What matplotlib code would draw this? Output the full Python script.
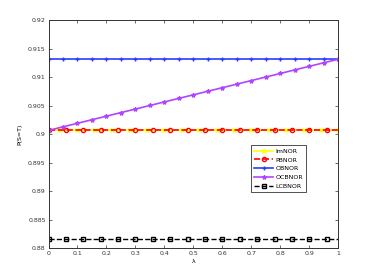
import numpy as np
import matplotlib
matplotlib.use("Agg")
import matplotlib.pyplot as plt

# === data ===
lam = [0.00, 0.05, 0.10, 0.15, 0.20, 0.25, 0.30, 0.35, 0.40, 0.45, 0.50,
       0.55, 0.60, 0.65, 0.70, 0.75, 0.80, 0.85, 0.90, 0.95, 1.00]
lam_b = [0.00, 0.06, 0.12, 0.18, 0.24, 0.30, 0.36, 0.42, 0.48, 0.54, 0.60,
         0.66, 0.72, 0.78, 0.84, 0.90, 0.96, 1.00]
lam_c = [0.00, 0.04, 0.10, 0.16, 0.22, 0.28, 0.34, 0.40, 0.46, 0.52, 0.58,
         0.64, 0.70, 0.76, 0.82, 0.88, 0.94, 1.00]

imnor = [0.9007] * len(lam_c)
pbnor = [0.9007] * len(lam_b)
obnor = [0.9132] * len(lam)
ocbnor = [0.9007, 0.90133, 0.90195, 0.90258, 0.9032, 0.90383, 0.90445,
          0.90508, 0.9057, 0.90633, 0.90695, 0.90758, 0.9082, 0.90883,
          0.90945, 0.91008, 0.9107, 0.91133, 0.91195, 0.91258, 0.9132]
lcbnor = [0.8817] * len(lam_b)

fig = plt.figure(figsize=(3.74, 2.80), dpi=100)
ax = fig.add_axes([0.1297, 0.1132, 0.7748, 0.8136])

no_last = list(range(len(lam_b) - 1))
ax.plot(lam_c, imnor, color="#ffff00", lw=1.2, marker="x", ms=3, mew=1,
        label="ImNOR")
ax.plot(lam_b, pbnor, color="#ff0000", lw=1.2, ls="--", marker="o",
        ms=3, mew=1, mfc="none", markevery=no_last, label="PBNOR")
ax.plot(lam, obnor, color="#2a3cff", lw=1.2, marker="+", ms=3.5, mew=1,
        label="OBNOR")
ax.plot(lam, ocbnor, color="#b044ff", lw=1.2, marker="*", ms=3,
        label="OCBNOR")
ax.plot(lam_b, lcbnor, color="black", lw=1.0, ls="--", marker="s", ms=2.5,
        mew=1, mfc="none", markevery=no_last, label="LCBNOR")

ax.set_xlim(0, 1)
ax.set_ylim(0.88, 0.92)
ax.set_xticks(np.arange(0, 1.01, 0.1))
ax.set_xticklabels(["0", "0.1", "0.2", "0.3", "0.4", "0.5", "0.6", "0.7",
                    "0.8", "0.9", "1"])
ax.set_yticks(np.arange(0.88, 0.9201, 0.005))
ax.set_yticklabels(["0.88", "0.885", "0.89", "0.895", "0.9", "0.905",
                    "0.91", "0.915", "0.92"])
ax.tick_params(direction="in", length=2.5, width=0.5, labelsize=4.5,
               colors="#333333", top=True, right=True, pad=2)
for s in ax.spines.values():
    s.set_linewidth(0.7)
    s.set_color("#333333")

ax.set_xlabel("λ", fontsize=4.5, labelpad=2)
ax.set_ylabel("P(S=T)", fontsize=4.5, labelpad=4)

leg = ax.legend(loc="upper left", bbox_to_anchor=(0.70, 0.452), fontsize=4.5,
                frameon=True, fancybox=False, edgecolor="black",
                handlelength=3.0, borderpad=0.5, labelspacing=0.55,
                handletextpad=0.4, borderaxespad=0)
leg.get_frame().set_linewidth(0.6)

plt.savefig("out.png", dpi=100)
